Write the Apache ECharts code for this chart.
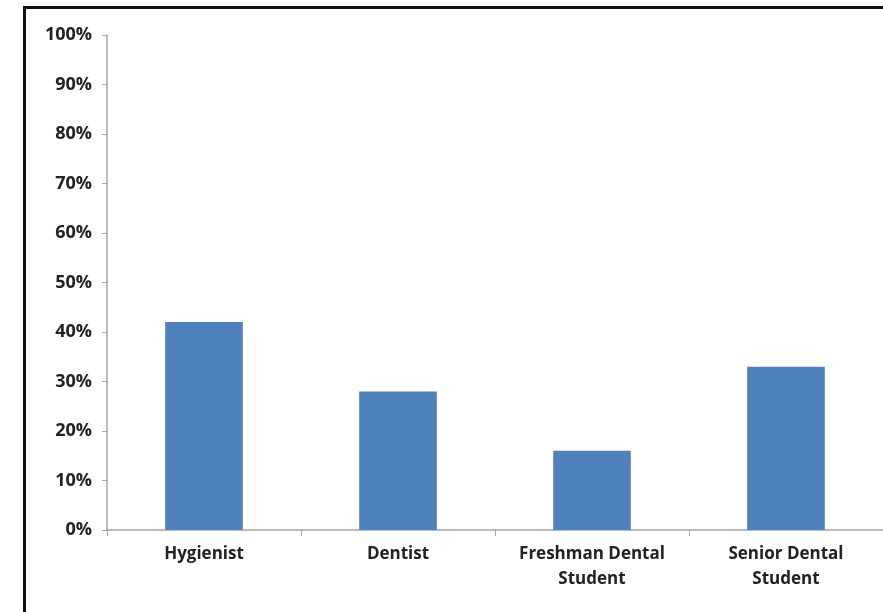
<!DOCTYPE html>
<html>
<head>
<meta charset="utf-8">
<script src="https://cdn.jsdelivr.net/npm/echarts@6/dist/echarts.min.js"></script>
<style>
  html, body { margin: 0; padding: 0; background: #fff; overflow: hidden; }
  #wrap { position: relative; width: 883px; height: 612px; }
  #chart { width: 883px; height: 612px; }
  /* black frame round the chart, only its left and top edges are in view */
  #frame { position: absolute; left: 23px; top: 6px; width: 900px; height: 700px;
           border-left: 3px solid #111; border-top: 3px solid #111; pointer-events: none; }
</style>
</head>
<body>
<div id="wrap">
  <div id="chart"></div>
  <div id="frame"></div>
</div>
<script>
// categories and values
var categories = ['Hygienist', 'Dentist', 'Freshman Dental\nStudent', 'Senior Dental\nStudent'];
var values = [42, 28, 16, 33];
var yTicks = [0, 10, 20, 30, 40, 50, 60, 70, 80, 90, 100];

var labelFont = {
    fontFamily: 'Open Sans',
    fontWeight: 'bold',
    fontSize: 17,
    color: '#222'
};

var myChart = echarts.init(document.getElementById('chart'));
myChart.setOption({
    animation: false,
    backgroundColor: '#fff',
    grid: { left: 107, top: 35, right: -3, bottom: 82 },
    xAxis: {
        type: 'category',
        data: categories,
        axisLine: { lineStyle: { color: '#a6a6a6', width: 1.5 } },
        axisTick: { show: true, length: 6, lineStyle: { color: '#a6a6a6' } },
        axisLabel: Object.assign({ margin: 12, lineHeight: 25, interval: 0 }, labelFont)
    },
    yAxis: {
        type: 'value',
        min: yTicks[0],
        max: yTicks[yTicks.length - 1],
        interval: 10,
        splitLine: { show: false },
        axisLine: { show: true, lineStyle: { color: '#a6a6a6', width: 1.5 } },
        axisTick: { show: true, length: 5, lineStyle: { color: '#a6a6a6' } },
        axisLabel: Object.assign({}, labelFont, { margin: 15, fontSize: 18, formatter: '{value}%' })
    },
    series: [{
        type: 'bar',
        data: values,
        barWidth: '40%',
        itemStyle: { color: '#4f81bd' }
    }]
});
</script>
</body>
</html>
